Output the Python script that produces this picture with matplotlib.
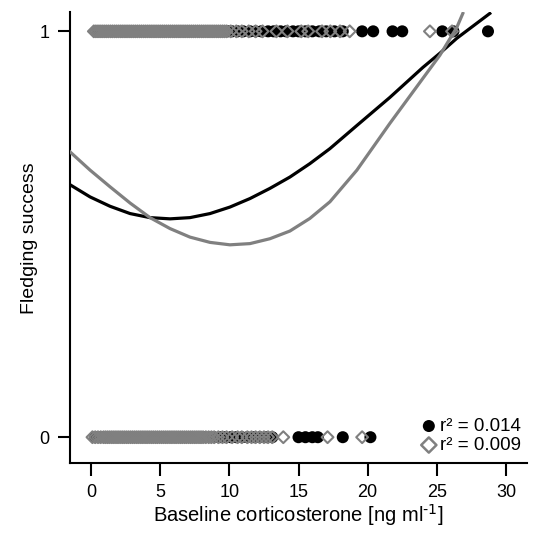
import matplotlib
matplotlib.use("Agg")
import matplotlib.pyplot as plt

plt.rcParams['font.family'] = ['Liberation Sans', 'DejaVu Sans']

# fledged (y = 1) birds, group 1 (black circles) and group 2 (grey diamonds)
black_fledged = [0.5, 0.8, 1.1, 1.5, 1.8, 2.2, 2.5, 2.9, 3.2, 3.6, 3.9, 4.3, 4.6, 5.0,
                 5.3, 5.7, 6.0, 6.4, 6.7, 7.1, 7.4, 7.8, 8.1, 8.5, 8.8, 9.2, 9.5, 9.9,
                 10.2, 10.6, 11.0, 11.5, 11.9, 12.3, 12.8, 13.2, 13.7, 14.1, 14.6, 15.0,
                 15.5, 16.0, 16.5, 17.0, 17.6, 18.2,
                 19.6, 20.4, 21.8, 22.5, 25.4, 26.2, 28.7]
grey_fledged = [0.2, 0.35, 0.5, 0.65, 0.8, 0.95, 1.1, 1.25, 1.4, 1.55, 1.7, 1.85, 2.0,
                2.15, 2.3, 2.45, 2.6, 2.75, 2.9, 3.05, 3.2, 3.35, 3.5, 3.65, 3.8, 3.95,
                4.1, 4.25, 4.4, 4.55, 4.7, 4.85, 5.0, 5.15, 5.3, 5.45, 5.6, 5.75, 5.9,
                6.05, 6.2, 6.35, 6.5, 6.65, 6.8, 6.95, 7.1, 7.25, 7.4, 7.55, 7.7, 7.85,
                8.0, 8.15, 8.3, 8.45, 8.6, 8.75, 8.9, 9.05, 9.2, 9.35, 9.5, 9.65, 9.8,
                10.1, 10.5, 10.9, 11.4, 11.9, 12.4,
                13.4, 14.2, 15.2, 15.7, 16.7, 17.3, 18.0, 18.7, 24.5, 26.1]

# failed (y = 0) birds
black_failed = [0.3, 0.6, 0.9, 1.2, 1.6, 1.9, 2.3, 2.6, 3.0, 3.3, 3.7, 4.0, 4.4, 4.7,
                5.1, 5.4, 5.8, 6.1, 6.5, 6.8, 7.2, 7.5, 7.9, 8.2, 8.6, 8.9, 9.3, 9.7,
                10.1, 10.5, 10.9, 11.3, 11.8, 12.2, 12.7, 13.1,
                15.0, 15.5, 16.0, 16.4, 18.2, 20.2]
grey_failed = [0.1, 0.3, 0.5, 0.7, 0.9, 1.05, 1.2, 1.35, 1.5, 1.65, 1.8, 1.95, 2.1,
               2.25, 2.4, 2.55, 2.7, 2.85, 3.0, 3.15, 3.3, 3.45, 3.6, 3.75, 3.9, 4.05,
               4.2, 4.35, 4.5, 4.65, 4.8, 4.95, 5.1, 5.25, 5.4, 5.55, 5.7, 5.85, 6.0,
               6.15, 6.3, 6.45, 6.6, 6.75, 6.9, 7.05, 7.2, 7.35, 7.5, 7.65, 7.8, 7.95,
               8.1, 8.3, 8.5, 8.7, 8.9, 9.2, 9.5, 9.8, 10.2, 10.6, 10.9, 11.3, 11.6,
               11.9, 12.2, 12.5, 12.8, 13.1, 13.9, 17.1, 19.6]

# fitted curves
black_curve_x = [-1.52, -0.07, 1.37, 2.82, 4.26, 5.71, 7.15, 8.60, 10.04, 11.49, 12.93,
                 14.38, 15.82, 17.27, 19.22, 21.60, 23.99, 25.22, 26.45, 28.83]
black_curve_y = [0.622, 0.592, 0.569, 0.551, 0.541, 0.538, 0.541, 0.551, 0.567, 0.588,
                 0.613, 0.641, 0.674, 0.711, 0.768, 0.837, 0.911, 0.946, 0.983, 1.044]
grey_curve_x = [-1.52, -0.07, 1.37, 2.82, 4.26, 5.71, 7.15, 8.60, 10.04, 11.49, 12.93,
                14.38, 15.82, 17.27, 19.22, 21.60, 23.99, 25.22, 26.45, 26.88]
grey_curve_y = [0.703, 0.658, 0.617, 0.577, 0.541, 0.514, 0.493, 0.480, 0.474, 0.477,
                0.489, 0.508, 0.539, 0.580, 0.658, 0.773, 0.884, 0.941, 1.010, 1.044]

r2_labels = ['r\u00b2 = 0.014', 'r\u00b2 = 0.009']
grey = '#808080'

fig = plt.figure(figsize=(5.43, 5.33), dpi=100)
ax = fig.add_axes([0.129, 0.131, 0.841, 0.846])

ax.scatter(black_fledged, [1] * len(black_fledged), s=75, c='black', edgecolors='none', zorder=2)
ax.scatter(black_failed, [0] * len(black_failed), s=75, c='black', edgecolors='none', zorder=2)
ax.scatter(grey_fledged, [1] * len(grey_fledged), s=36, marker='D', facecolors='none',
           edgecolors=grey, linewidths=1.5, zorder=3)
ax.scatter(grey_failed, [0] * len(grey_failed), s=36, marker='D', facecolors='none',
           edgecolors=grey, linewidths=1.5, zorder=3)

ax.plot(black_curve_x, black_curve_y, color='black', lw=2.3, zorder=4,
        solid_joinstyle='round')
ax.plot(grey_curve_x, grey_curve_y, color=grey, lw=2.3, zorder=4,
        solid_joinstyle='round')

# legend handles
h1 = ax.scatter([], [], s=75, c='black', edgecolors='none')
h2 = ax.scatter([], [], s=60, marker='D', facecolors='none', edgecolors=grey, linewidths=1.8)
ax.legend([h1, h2], r2_labels, loc='lower right', bbox_to_anchor=(1.0, 0.008),
          frameon=False, fontsize=13.5, handletextpad=0.1, handlelength=1.0,
          labelspacing=0.1, borderaxespad=0.1, borderpad=0.2)

ax.set_xlim(-1.52, 31.5)
ax.set_ylim(-0.064, 1.047)
ax.set_xticks([0, 5, 10, 15, 20, 25, 30])
ax.set_yticks([0, 1])

for side in ['top', 'right']:
    ax.spines[side].set_visible(False)
for side in ['left', 'bottom']:
    ax.spines[side].set_linewidth(1.5)
ax.tick_params(direction='out', length=9, width=1.5, labelsize=13, pad=6)

ax.set_xlabel('Baseline corticosterone [ng ml$^{\\text{-1}}$]', fontsize=14.5, labelpad=1)
ax.set_ylabel('Fledging success', fontsize=14, labelpad=1)

fig.savefig('out.png', dpi=100)
